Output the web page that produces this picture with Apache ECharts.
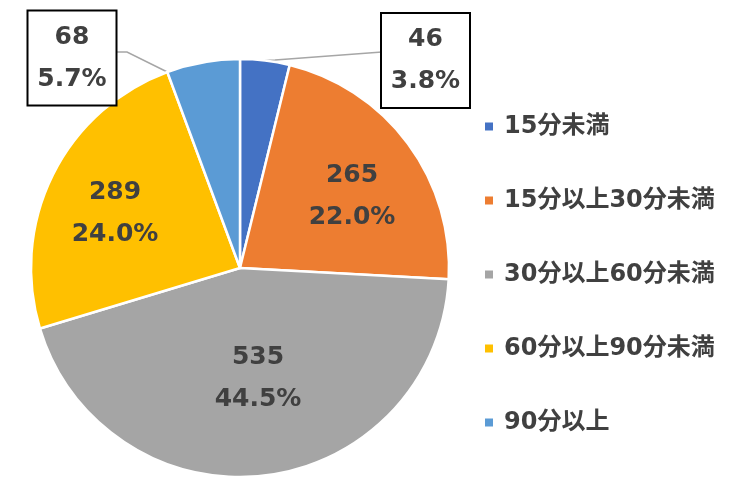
<!DOCTYPE html>
<html><head><meta charset="utf-8">
<script src="https://cdn.jsdelivr.net/npm/echarts@6/dist/echarts.min.js"></script>
<style>html,body{margin:0;padding:0;background:#fff}#c{width:740px;height:489px}</style>
</head><body><div id="c"></div>
<script>
const categories = ['15分未満','15分以上30分未満','30分以上60分未満','60分以上90分未満','90分以上'];
const values = [46, 265, 535, 289, 68];
const colors = ['#4472C4','#ED7D31','#A5A5A5','#FFC000','#5B9BD5'];

const FONT = '"DejaVu Sans","Noto Sans CJK JP",sans-serif';
const CX = 240, CY = 268, R = 209;
const total = values.reduce((a,b)=>a+b,0);
// cumulative angles (deg, clockwise from top)
const cum = [0];
values.forEach(v => cum.push(cum[cum.length-1] + v/total*360));
function pt(deg, r){ const a = deg*Math.PI/180; return [CX + r*Math.sin(a), CY - r*Math.cos(a)]; }

// label placement (centre of text block) per slice
const labelPos = [[425.5,60.5],[352,196],[258,378],[115,213],[72,58]];

const chart = echarts.init(document.getElementById('c'));
const boxLabel = {
  position:'outside', backgroundColor:'#fff', borderColor:'#000', borderWidth:2,
  width:83, height:89, align:'center', verticalAlign:'middle', lineHeight:42,
  padding:[2,2,2,2]
};
chart.setOption({
  backgroundColor:'#fff',
  color: colors,
  legend:{
    orient:'vertical', left:478, top:109, itemWidth:10, itemHeight:10, itemGap:49,
    icon:'rect',
    textStyle:{fontFamily:FONT, fontWeight:'bold', fontSize:24, color:'#404040', lineHeight:25, padding:[0,0,0,5]},
    data: categories
  },
  series:[{
    type:'pie', center:[CX,CY], radius:R, startAngle:90, clockwise:true,
    avoidLabelOverlap:false, animation:false,
    itemStyle:{borderColor:'#fff', borderWidth:2.5},
    label:{
      show:true, position:'inside', fontFamily:FONT, fontWeight:'bold', fontSize:25,
      color:'#404040', lineHeight:42, align:'center',
      formatter: p => p.value + '\n' + (p.value/total*100).toFixed(1) + '%'
    },
    labelLine:{show:true, lineStyle:{color:'#A6A6A6', width:1.5}, length:10, length2:10},
    labelLayout: function(params){
      const i = params.dataIndex;
      const res = {x:labelPos[i][0], y:labelPos[i][1], align:'center', verticalAlign:'middle'};
      if (i === 0) {
        const s = pt((cum[0]+cum[1])/2, R);
        res.labelLinePoints = [s, [s[0]+10, s[1]-0.5], [382, 52]];
      } else if (i === 4) {
        const s = pt(cum[4], R);
        res.labelLinePoints = [s, [127, 52], [116, 52]];
      }
      return res;
    },
    data: categories.map((n,i)=>{
      const d = {name:n, value:values[i]};
      if (i===0 || i===4) { d.label = Object.assign({}, boxLabel); d.labelLine = {show:true}; }
      else { d.labelLine = {show:false}; }
      return d;
    })
  }]
});
</script></body></html>
